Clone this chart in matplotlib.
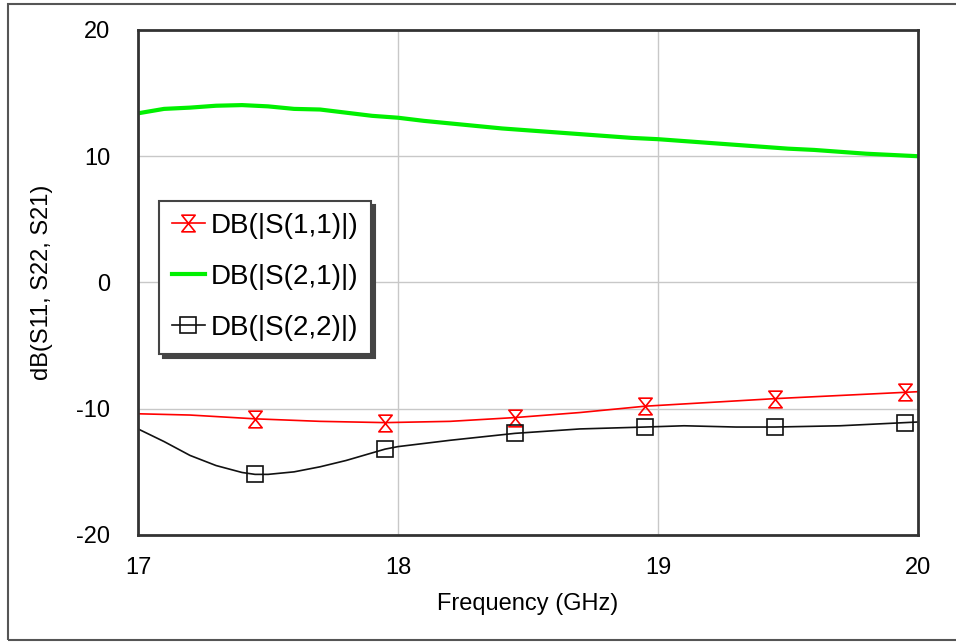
import matplotlib.pyplot as plt
from matplotlib.path import Path
from matplotlib.patches import Rectangle

plt.rcParams['font.family'] = ['Liberation Sans', 'DejaVu Sans']
plt.rcParams['axes.unicode_minus'] = False

# S21 (green), smooth curve
freq_s21 = [17.0, 17.1, 17.2, 17.3, 17.4, 17.5, 17.6, 17.7, 17.8, 17.9, 18.0,
            18.1, 18.2, 18.3, 18.4, 18.5, 18.6, 18.7, 18.8, 18.9, 19.0,
            19.1, 19.2, 19.3, 19.4, 19.5, 19.6, 19.7, 19.8, 19.9, 20.0]
db_s21 = [13.4, 13.75, 13.85, 14.0, 14.05, 13.95, 13.75, 13.7, 13.45, 13.2, 13.05,
          12.8, 12.6, 12.4, 12.2, 12.05, 11.9, 11.75, 11.6, 11.45, 11.35,
          11.2, 11.05, 10.9, 10.75, 10.6, 10.5, 10.35, 10.2, 10.1, 10.0]

# S11 (red)
freq_s11 = [17.0, 17.2, 17.45, 17.7, 17.95, 18.2, 18.45, 18.7, 18.95,
            19.2, 19.45, 19.7, 19.95, 20.0]
db_s11 = [-10.4, -10.5, -10.8, -11.0, -11.1, -11.0, -10.7, -10.3, -9.8,
          -9.5, -9.2, -8.95, -8.7, -8.65]

# S22 (black)
freq_s22 = [17.0, 17.1, 17.2, 17.3, 17.4, 17.45, 17.5, 17.6, 17.7, 17.8, 17.9,
            17.95, 18.0, 18.2, 18.45, 18.7, 18.95, 19.1, 19.3, 19.45, 19.7,
            19.95, 20.0]
db_s22 = [-11.6, -12.6, -13.7, -14.5, -15.05, -15.2, -15.2, -15.0, -14.6, -14.1, -13.5,
          -13.2, -13.0, -12.5, -11.95, -11.6, -11.45, -11.35, -11.45, -11.45, -11.35,
          -11.1, -11.05]

marker_freqs = [17.45, 17.95, 18.45, 18.95, 19.45, 19.95]

labels = ['DB(|S(1,1)|)', 'DB(|S(2,1)|)', 'DB(|S(2,2)|)']

# hourglass marker
hourglass = Path([(-0.8, 1), (0.8, 1), (-0.8, -1), (0.8, -1), (-0.8, 1)],
                 [Path.MOVETO, Path.LINETO, Path.LINETO, Path.LINETO, Path.CLOSEPOLY])

fig = plt.figure(figsize=(9.56, 6.42), dpi=100)
ax = fig.add_axes([0.1444, 0.1667, 0.8159, 0.7866])

idx11 = [freq_s11.index(f) for f in marker_freqs]
idx22 = [freq_s22.index(f) for f in marker_freqs]

ax.plot(freq_s11, db_s11, color='#ff0000', lw=1.2, marker=hourglass, ms=12,
        mfc='none', mec='#ff0000', mew=1.2, markevery=idx11, label=labels[0])
ax.plot(freq_s21, db_s21, color='#00f000', lw=3, label=labels[1])
ax.plot(freq_s22, db_s22, color='#111111', lw=1.2, marker='s', ms=11,
        mfc='none', mec='#111111', mew=1.2, markevery=idx22, label=labels[2])

ax.set_xlim(17, 20)
ax.set_ylim(-20, 20)
ax.set_xticks([17, 18, 19, 20])
ax.set_yticks([-20, -10, 0, 10, 20])
ax.grid(True, color='#c8c8c8', lw=1)
ax.set_axisbelow(True)
ax.tick_params(axis='both', length=0, labelsize=17)
ax.tick_params(axis='x', pad=16)
ax.tick_params(axis='y', pad=20)
for sp in ax.spines.values():
    sp.set_color('#333333')
    sp.set_linewidth(2)

ax.set_xlabel('Frequency (GHz)', fontsize=17)
ax.set_ylabel('dB(S11, S22, S21)', fontsize=17)
ax.xaxis.set_label_coords(0.5, -0.137)
ax.xaxis.label.set_va('center')
ax.yaxis.set_label_coords(-0.123, 0.5)
ax.yaxis.label.set_va('center')

leg = ax.legend(loc='upper left', bbox_to_anchor=(0.027, 0.662), borderaxespad=0,
                fontsize=20, fancybox=False, framealpha=1, edgecolor='#444444',
                borderpad=0.45, handlelength=1.2, handletextpad=0.2,
                labelspacing=0.9,
                shadow={'ox': 3, 'oy': -3, 'color': '#444444', 'alpha': 1})
leg.get_frame().set_linewidth(1.5)

# outer frame around the whole figure
fig.patches.append(Rectangle((8 / 956, 2 / 642), 1.0, 636 / 642, transform=fig.transFigure,
                             fill=False, edgecolor='#555555', lw=1.5))

fig.savefig('out.png', dpi=100)
